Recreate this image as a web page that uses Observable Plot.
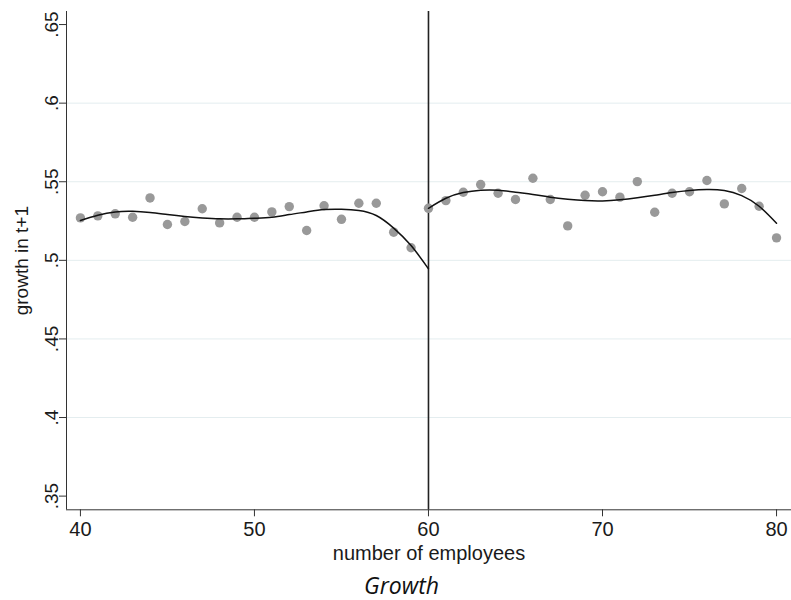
<!DOCTYPE html>
<html><head><meta charset="utf-8">
<script src="https://cdn.jsdelivr.net/npm/d3@7"></script>
<script src="https://cdn.jsdelivr.net/npm/@observablehq/plot@0.6"></script>
<style>
html,body{margin:0;padding:0;background:#fff;}
#chart svg{display:block;}
#caption{font-family:"Open Sans",sans-serif;font-style:italic;font-size:23px;text-align:center;width:791px;padding-left:12px;padding-top:2px;box-sizing:border-box;line-height:26px;height:28px;color:#111;}
</style></head><body>
<div id="chart"></div>
<div id="caption">Growth</div>
<script>
// number of employees (bins)
const employees = [40,41,42,43,44,45,46,47,48,49,50,51,52,53,54,55,56,57,58,59,60,
                   61,62,63,64,65,66,67,68,69,70,71,72,73,74,75,76,77,78,79,80];
// mean growth in t+1 per bin
const growth = [0.5270,0.5283,0.5296,0.5274,0.5397,0.5228,0.5247,0.5328,0.5238,0.5274,
                0.5274,0.5308,0.5342,0.5190,0.5347,0.5261,0.5363,0.5363,0.5179,0.5080,
                0.5331,0.5380,0.5433,0.5482,0.5427,0.5387,0.5522,0.5387,0.5219,0.5414,
                0.5436,0.5402,0.5501,0.5306,0.5427,0.5436,0.5508,0.5359,0.5457,0.5344,0.5143];
// fitted polynomial, left of the cutoff
const fitLeftX = [40,41,42,43,44,45,46,47,48,49,50,51,52,53,54,55,56,57,58,59,60];
const fitLeft  = [0.5253,0.5287,0.5308,0.5312,0.5304,0.5291,0.5279,0.5270,0.5264,0.5264,
                  0.5268,0.5274,0.5291,0.5308,0.5323,0.5325,0.5317,0.5285,0.5205,0.5094,0.4946];
// fitted polynomial, right of the cutoff
const fitRightX = [60,61,62,63,64,65,66,67,68,69,70,71,72,73,74,75,76,77,78,79,80];
const fitRight  = [0.5331,0.5395,0.5431,0.5446,0.5446,0.5433,0.5419,0.5402,0.5389,0.5380,
                   0.5378,0.5385,0.5398,0.5414,0.5431,0.5444,0.5450,0.5444,0.5412,0.5344,0.5236];
const cutoff = [60];
const xTicks = [40,50,60,70,80];
const yTicks = [0.35,0.40,0.45,0.50,0.55,0.60,0.65];
const yTickLabels = [".35",".4",".45",".5",".55",".6",".65"];
const gridValues = [0.40,0.45,0.50,0.55,0.60];
const xTitle = "number of employees";
const yTitle = "growth in t+1";

const xDomain = [39.2, 80.86];
const yDomain = [0.3413, 0.6583];

const points = employees.map((e, i) => ({e, g: growth[i]}));
const fit = [
  ...fitLeftX.map((e, i) => ({e, g: fitLeft[i], side: "left"})),
  ...fitRightX.map((e, i) => ({e, g: fitRight[i], side: "right"}))
];

const chart = Plot.plot({
  width: 791,
  height: 570,
  marginLeft: 66,
  marginRight: 0,
  marginTop: 11,
  marginBottom: 60.7,
  style: {fontFamily: "'Liberation Sans', Arial, sans-serif", color: "#1a1a1a", background: "#fff"},
  x: {domain: xDomain},
  y: {domain: yDomain},
  marks: [
    Plot.gridY(gridValues, {stroke: "#e4edef", strokeOpacity: 1, strokeWidth: 1}),
    Plot.ruleX([xDomain[0]], {stroke: "#333", strokeWidth: 1}),
    Plot.ruleY([yDomain[0]], {stroke: "#333", strokeWidth: 1}),
    Plot.axisY(yTicks, {tickSize: 7, tickRotate: -90, tickPadding: 2, fontSize: 19,
      tickFormat: d => yTickLabels[yTicks.indexOf(d)], label: null, stroke: "#333"}),
    Plot.axisX(xTicks, {tickSize: 7, tickPadding: 5, fontSize: 20, label: null, stroke: "#333"}),
    Plot.text([xTitle], {text: d => d, frameAnchor: "bottom", dy: 36, lineAnchor: "top", fontSize: 20}),
    Plot.text([yTitle], {text: d => d, frameAnchor: "left", textAnchor: "middle", rotate: -90, dx: -52, lineAnchor: "top", fontSize: 19}),
    Plot.ruleX(cutoff, {stroke: "#222", strokeWidth: 1.6}),
    Plot.dot(points, {x: "e", y: "g", r: 4.7, fill: "#999", stroke: "none"}),
    Plot.line(fit, {x: "e", y: "g", z: "side", curve: "natural", stroke: "#111", strokeWidth: 1.5})
  ]
});
document.getElementById("chart").appendChild(chart);
</script>
</body></html>
